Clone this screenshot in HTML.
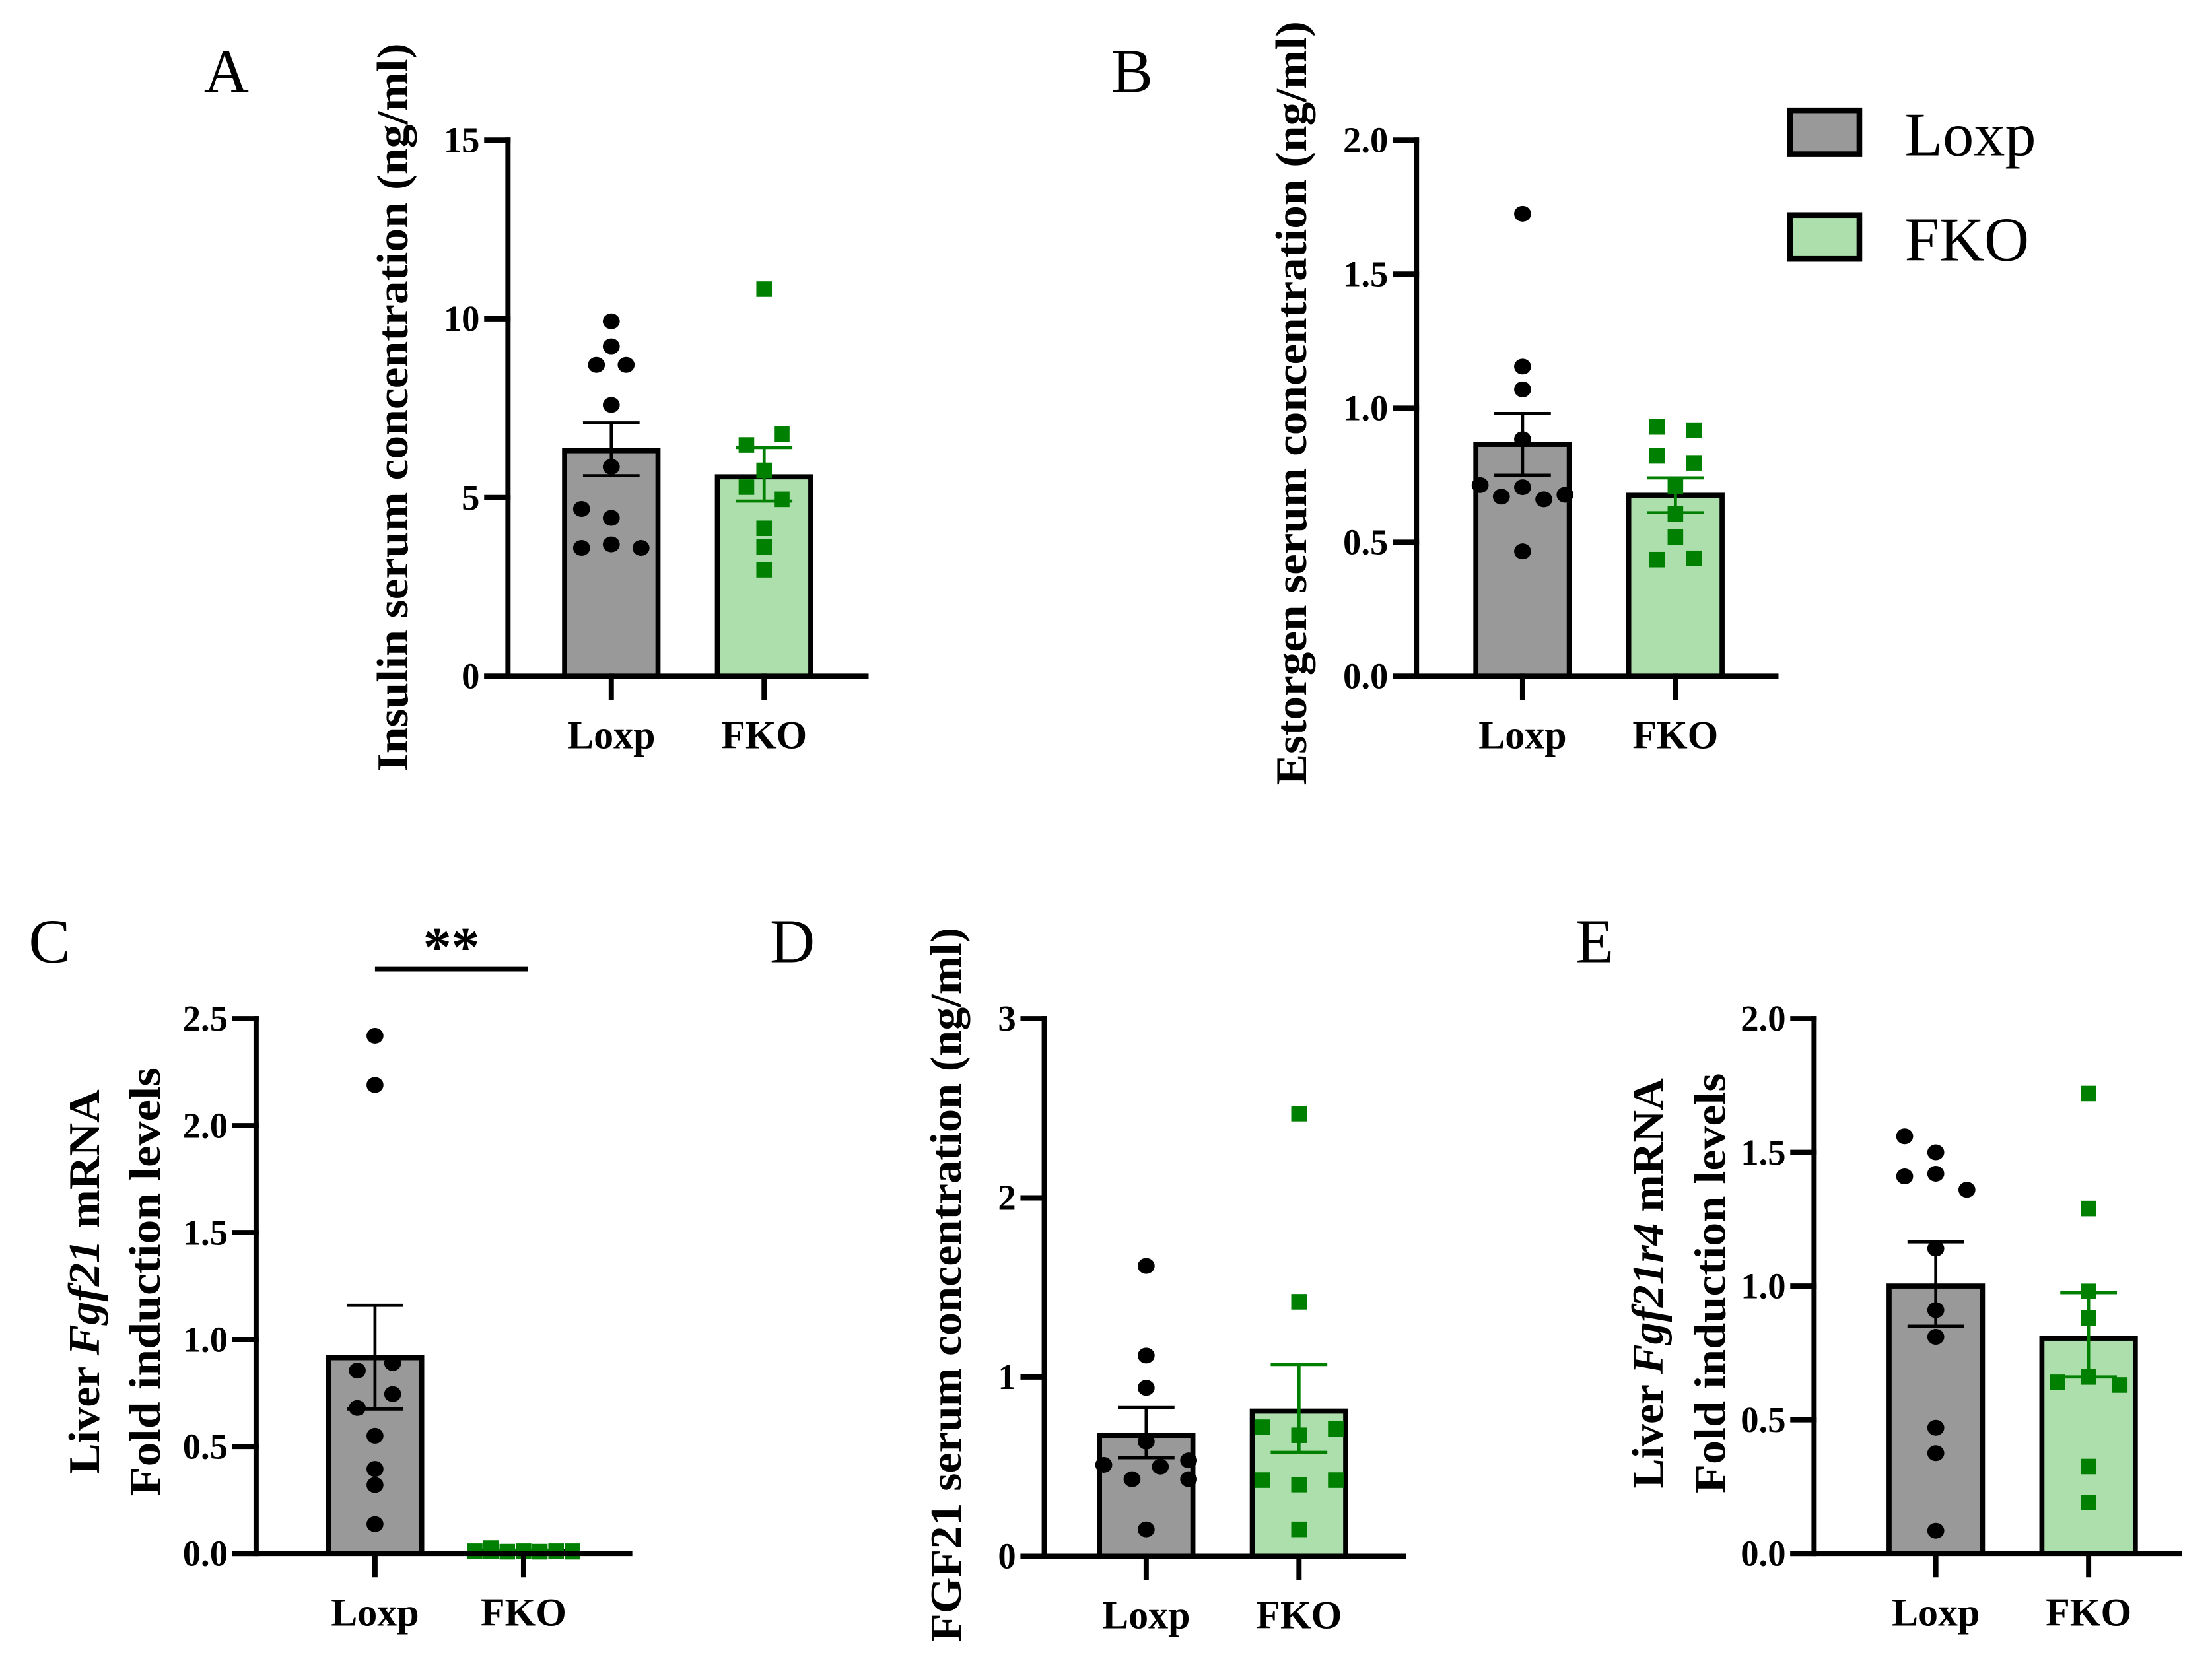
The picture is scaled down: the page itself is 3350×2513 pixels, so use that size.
<!DOCTYPE html>
<html><head><meta charset="utf-8"><style>
html,body{margin:0;padding:0;background:#fff;}
svg{display:block;}
text{font-family:"Liberation Serif",serif;fill:#000;}
</style></head><body>
<svg id="fig" width="3350" height="2513" viewBox="0 0 1563.2 1172.6" preserveAspectRatio="none" xmlns="http://www.w3.org/2000/svg">
<rect x="0" y="0" width="1563.2" height="1172.6" fill="#fff"/>
<g>
 <rect x="1265" y="78" width="49" height="31" fill="#999" stroke="#000" stroke-width="4"/>
 <text x="1346" y="110" font-size="44">Loxp</text>
 <rect x="1265" y="152" width="49" height="31" fill="#addfad" stroke="#000" stroke-width="4"/>
 <text x="1346" y="184" font-size="44">FKO</text>
</g>
</svg>
<script>
// Panel A: insulin
const aCats = ["Loxp","FKO"];
const aMeans = [6.31, 5.58];
const aSemLo = [5.61, 4.9];
const aSemHi = [7.09, 6.4];
const aLoxpVals = [9.93, 9.23, 8.71, 8.71, 7.59, 5.86, 4.68, 4.43, 3.59, 3.69, 3.59];
const aLoxpOff = [0, 0, -1, 1, 0, 0, -2, 0, -2, 0, 2];
const aFkoVals = [10.83, 6.77, 6.47, 5.76, 5.29, 4.95, 4.14, 3.62, 2.98];
const aFkoOff = [0, 1, -1, 0, -1, 1, 0, 0, 0];
const aTicks = [0, 5, 10, 15];
const aTickLabels = ["0", "5", "10", "15"];
// Panel B: estrogen
const bMeans = [0.865, 0.675];
const bSemLo = [0.75, 0.61];
const bSemHi = [0.98, 0.74];
const bLoxpVals = [1.725, 1.155, 1.07, 0.884, 0.713, 0.67, 0.705, 0.66, 0.677, 0.466];
const bLoxpOff = [0, 0, 0, 0, -2, -1, 0, 1, 2, 0];
const bFkoVals = [0.93, 0.918, 0.822, 0.796, 0.708, 0.605, 0.52, 0.435, 0.44];
const bFkoOff = [-1, 1, -1, 1, 0, 0, 0, -1, 1];
const bTicks = [0, 0.5, 1.0, 1.5, 2.0];
const bTickLabels = ["0.0", "0.5", "1.0", "1.5", "2.0"];
// Panel C: liver Fgf21 mRNA
const cMeans = [0.915, 0.01];
const cSemLo = [0.675, 0.005];
const cSemHi = [1.16, 0.015];
const cLoxpVals = [2.42, 2.19, 0.89, 0.855, 0.745, 0.68, 0.55, 0.395, 0.32, 0.137];
const cLoxpOff = [0, 0, 1, -1, 1, -1, 0, 0, 0, 0];
const cFkoVals = [0.01, 0.025, 0.01, 0.008, 0.01, 0.008, 0.01, 0.01, 0.008];
const cFkoOff = [-3, -2, -2, -1, 0, 1, 2, 3, 3];
const cTicks = [0, 0.5, 1.0, 1.5, 2.0, 2.5];
const cTickLabels = ["0.0", "0.5", "1.0", "1.5", "2.0", "2.5"];
// Panel D: FGF21 serum
const dMeans = [0.675, 0.81];
const dSemLo = [0.55, 0.58];
const dSemHi = [0.83, 1.07];
const dLoxpVals = [1.62, 1.12, 0.94, 0.64, 0.51, 0.50, 0.535, 0.43, 0.43, 0.15];
const dLoxpOff = [0, 0, 0, 0, -3, 1, 3, -1, 3, 0];
const dFkoVals = [2.47, 1.42, 0.72, 0.675, 0.71, 0.425, 0.40, 0.425, 0.15];
const dFkoOff = [0, 0, -1, 0, 1, -1, 0, 1, 0];
const dTicks = [0, 1, 2, 3];
const dTickLabels = ["0", "1", "2", "3"];
// Panel E: liver Fgf21r4 mRNA
const eMeans = [1.0, 0.805];
const eSemLo = [0.85, 0.66];
const eSemHi = [1.165, 0.975];
const eLoxpVals = [1.56, 1.50, 1.41, 1.42, 1.36, 1.14, 0.91, 0.81, 0.47, 0.375, 0.085];
const eLoxpOff = [-1, 0, -1, 0, 1, 0, 0, 0, 0, 0, 0];
const eFkoVals = [1.72, 1.29, 0.98, 0.88, 0.66, 0.64, 0.63, 0.325, 0.19];
const eFkoOff = [0, 0, 0, 0, 0, -1, 1, 0, 0];
const eTicks = [0, 0.5, 1.0, 1.5, 2.0];
const eTickLabels = ["0.0", "0.5", "1.0", "1.5", "2.0"];

const NS = "http://www.w3.org/2000/svg";
const svg = document.getElementById("fig");
function mk(tag, attrs, parent) {
  const e = document.createElementNS(NS, tag);
  for (const k in attrs) e.setAttribute(k, attrs[k]);
  (parent || svg).appendChild(e);
  return e;
}

function panel(cfg) {
  const g = mk("g", {});
  
  
  const y = v => cfg.y0 - (v / cfg.max) * (cfg.y0 - cfg.yTop);
  const fills = ["#999999", "#addfad"];
  const ecol = ["#000", "#008000"];
  for (let i = 0; i < 2; i++) {
    const cx = cfg.cx[i];
    const top = y(cfg.means[i]);
    const bar = mk("rect", {x: cx - 33, y: top, width: 66, height: Math.max(cfg.y0 - top, 0.5), fill: fills[i], stroke: "#000", "stroke-width": 3.6}, g);
    
    
  }
  const sets = [[cfg.lv, cfg.lo], [cfg.fv, cfg.fo]];
  for (let i = 0; i < 2; i++) {
    const [vals, offs] = sets[i];
    vals.forEach((v, j) => {
      const px = cfg.cx[i] + offs[j] * cfg.dx[i];
      const py = y(v);
      let m;
      if (i === 0) {
        m = mk("ellipse", {cx: px, cy: py, rx: 6, ry: 5.6, fill: "#000"}, g);
        
      } else {
        m = mk("rect", {x: px - 5.5, y: py - 5.5, width: 11, height: 11, fill: "#008000"}, g);
        
      }
      
    });
  }
  for (let i = 0; i < 2; i++) {
    const cx = cfg.cx[i];
    const eg = mk("g", {stroke: ecol[i], "stroke-width": 2.2, fill: "none"}, g);
    
    
    mk("line", {x1: cx, x2: cx, y1: y(cfg.lo_[i]), y2: y(cfg.hi_[i])}, eg);
    mk("line", {x1: cx - 20, x2: cx + 20, y1: y(cfg.lo_[i]), y2: y(cfg.lo_[i])}, eg);
    mk("line", {x1: cx - 20, x2: cx + 20, y1: y(cfg.hi_[i]), y2: y(cfg.hi_[i])}, eg);
  }
  const ax = mk("g", {stroke: "#000", "stroke-width": 3.7, fill: "none", "stroke-linecap": "square"}, g);
  
  
  mk("line", {x1: cfg.ax, x2: cfg.ax, y1: cfg.yTop, y2: cfg.y0}, ax);
  mk("line", {x1: cfg.ax - 15, x2: cfg.xEnd, y1: cfg.y0, y2: cfg.y0}, ax);
  cfg.ticks.forEach((t, i) => {
    mk("line", {x1: cfg.ax - 15, x2: cfg.ax, y1: y(t), y2: y(t)}, ax);
    const tl = mk("text", {x: cfg.ax - 20, y: y(t) + 8.5, "font-size": 25.5, "font-weight": "bold", "text-anchor": "end"}, g);
    tl.textContent = cfg.tickLabels[i];
    
    
  });
  for (let i = 0; i < 2; i++) {
    mk("line", {x1: cfg.cx[i], x2: cfg.cx[i], y1: cfg.y0, y2: cfg.y0 + 15}, ax);
    const cl = mk("text", {x: cfg.cx[i], y: cfg.y0 + 51, "font-size": 28, "font-weight": "bold", "text-anchor": "middle"}, g);
    cl.textContent = aCats[i];
    
    
  }
  const pl = mk("text", {x: cfg.letterX, y: cfg.letterY, "font-size": 44, "text-anchor": "middle"}, g);
  pl.textContent = cfg.letter;
  
  
  cfg.titles.forEach(tt => {
    const t = mk("text", {x: 0, y: 0, "font-size": 31, "font-weight": "bold", "text-anchor": "middle", textLength: tt.len, lengthAdjust: "spacingAndGlyphs", transform: "translate(" + tt.x + "," + cfg.titleY + ") rotate(-90)"}, g);
    t.innerHTML = tt.html;
    
    
  });
  return {g, y};
}

panel({name: "panel-a-insulin", letter: "A", letterX: 160, letterY: 65, ax: 359, yTop: 99, y0: 478, xEnd: 612, max: 15,
  cx: [432, 540], dx: [10.5, 12.5], means: aMeans, lo_: aSemLo, hi_: aSemHi,
  lv: aLoxpVals, lo: aLoxpOff, fv: aFkoVals, fo: aFkoOff, ticks: aTicks, tickLabels: aTickLabels,
  titleY: 288, titles: [{x: 288, len: 515, html: "Insulin serum concentration (ng/ml)"}]});
panel({name: "panel-b-estrogen", letter: "B", letterX: 800, letterY: 65, ax: 1001, yTop: 99, y0: 478, xEnd: 1255, max: 2,
  cx: [1076, 1184], dx: [15, 13], means: bMeans, lo_: bSemLo, hi_: bSemHi,
  lv: bLoxpVals, lo: bLoxpOff, fv: bFkoVals, fo: bFkoOff, ticks: bTicks, tickLabels: bTickLabels,
  titleY: 285, titles: [{x: 923, len: 540, html: "Estorgen serum concentration (ng/ml)"}]});
panel({name: "panel-c-fgf21-mrna", letter: "C", letterX: 35, letterY: 680, ax: 181, yTop: 720, y0: 1098, xEnd: 445, max: 2.5,
  cx: [265, 370], dx: [12.5, 11.5], means: cMeans, lo_: cSemLo, hi_: cSemHi,
  lv: cLoxpVals, lo: cLoxpOff, fv: cFkoVals, fo: cFkoOff, ticks: cTicks, tickLabels: cTickLabels,
  titleY: 906, titles: [{x: 70, len: 272, html: "Liver <tspan font-style=\"italic\">Fgf21</tspan> mRNA"}, {x: 113, len: 303, html: "Fold induction levels"}]});
panel({name: "panel-d-fgf21-serum", letter: "D", letterX: 560, letterY: 680, ax: 738, yTop: 720, y0: 1100, xEnd: 992, max: 3,
  cx: [810, 918], dx: [10, 26], means: dMeans, lo_: dSemLo, hi_: dSemHi,
  lv: dLoxpVals, lo: dLoxpOff, fv: dFkoVals, fo: dFkoOff, ticks: dTicks, tickLabels: dTickLabels,
  titleY: 908, titles: [{x: 679, len: 505, html: "FGF21 serum concentration (ng/ml)"}]});
panel({name: "panel-e-fgf21r4-mrna", letter: "E", letterX: 1127, letterY: 680, ax: 1282, yTop: 720, y0: 1098, xEnd: 1540, max: 2,
  cx: [1368, 1476], dx: [22, 22], means: eMeans, lo_: eSemLo, hi_: eSemHi,
  lv: eLoxpVals, lo: eLoxpOff, fv: eFkoVals, fo: eFkoOff, ticks: eTicks, tickLabels: eTickLabels,
  titleY: 907, titles: [{x: 1175, len: 290, html: "Liver <tspan font-style=\"italic\">Fgf21r4</tspan> mRNA"}, {x: 1219, len: 297, html: "Fold induction levels"}]});

const sig = mk("line", {x1: 265, x2: 373, y1: 685, y2: 685, stroke: "#000", "stroke-width": 3.2});


const st = mk("text", {x: 319, y: 683, "font-size": 40, "font-weight": "bold", "text-anchor": "middle"});
st.textContent = "**";


</script>
</body></html>
